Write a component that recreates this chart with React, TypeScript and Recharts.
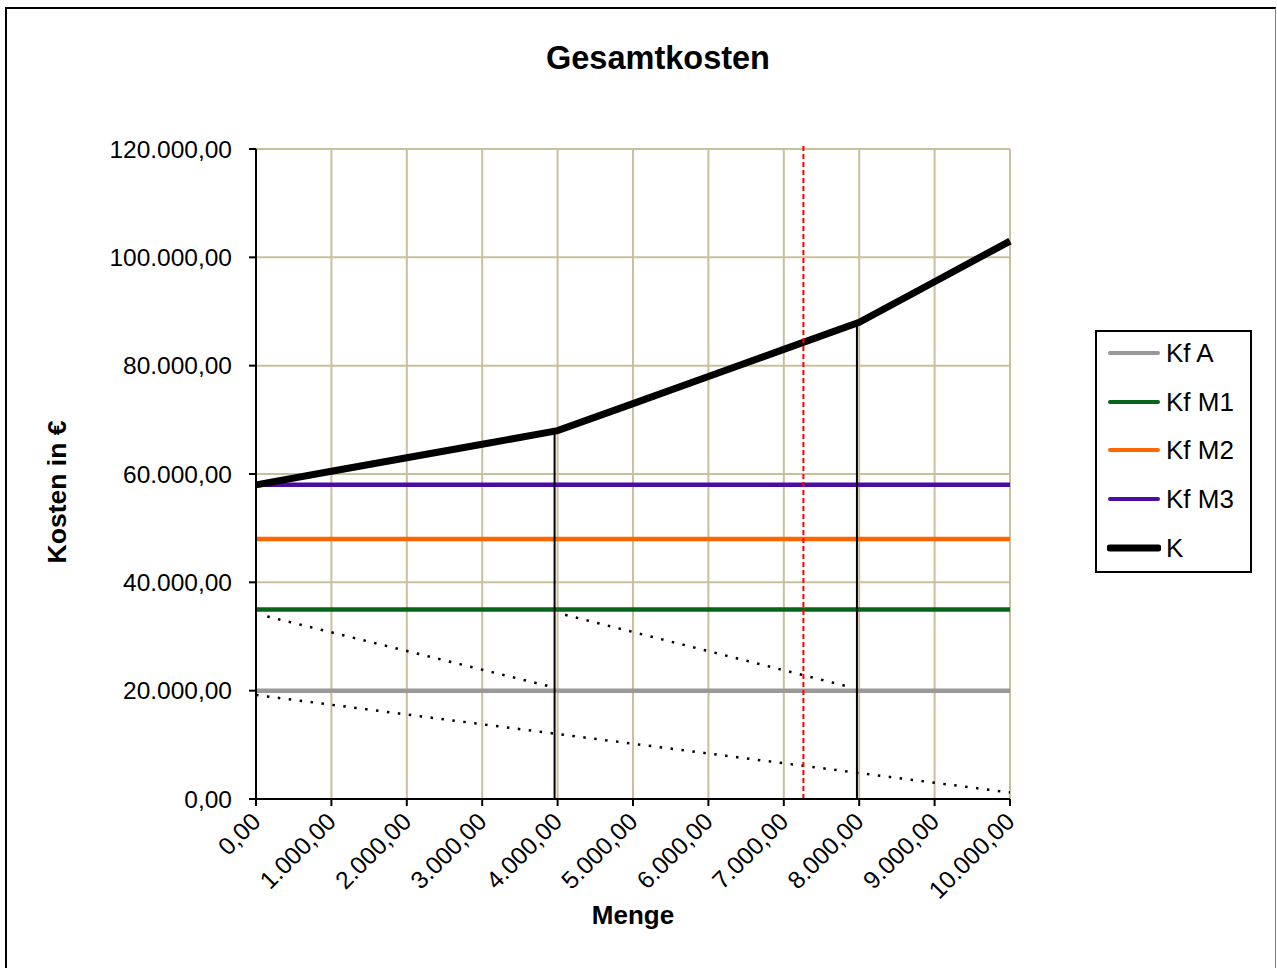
import { LineChart, Line, XAxis, YAxis, CartesianGrid, Legend, ReferenceLine } from 'recharts'

const FONT = '"Liberation Sans", Arial, sans-serif'

// Mengen (x) und Gesamtkosten K je Menge
const mengen = [0, 1000, 2000, 3000, 4000, 5000, 6000, 7000, 8000, 9000, 10000]
const gesamtkosten = [58000, 60500, 63000, 65500, 68000, 73000, 78000, 83000, 88000, 95500, 103000]
const kostenTicks = [0, 20000, 40000, 60000, 80000, 100000, 120000]

// Fixkostenniveaus
const fixNamen = ['Kf A', 'Kf M1', 'Kf M2', 'Kf M3']
const fixWerte = [20000, 35000, 48000, 58000]
const mengenBereich = [0, 10000]

// gepunktete Hilfslinien: [menge, kosten] von / bis
const hilfsVon = [[0, 19200], [150, 33700], [4100, 34000]]
const hilfsBis = [[10000, 1200], [3950, 20600], [7900, 20600]]

// Sprungstellen (senkrechte Linien bis zur Gesamtkostenkurve)
const sprungMengen = [3960, 7970]
const sprungKosten = [68000, 88000]

// rote Markierung
const markierungMenge = 7260
const markierungKosten = [0, 121100]

const legendReihenfolge = ['Kf A', 'Kf M1', 'Kf M2', 'Kf M3', 'K']
const fixFarben = ['#999999', '#086418', '#ff6600', '#4b0ca0']
const legendBreiten: Record<string, number> = { 'Kf A': 4, 'Kf M1': 4, 'Kf M2': 4, 'Kf M3': 4, K: 7 }

const kData = mengen.map((x, i) => ({ x, y: gesamtkosten[i] }))
const fixData = fixWerte.map((w) => mengenBereich.map((x) => ({ x, y: w })))
const hilfsData = hilfsVon.map((von, i) => [
  { x: von[0], y: von[1] },
  { x: hilfsBis[i][0], y: hilfsBis[i][1] },
])
const sprungData = sprungMengen.map((x, i) => [
  { x, y: 0 },
  { x, y: sprungKosten[i] },
])

function formatDE(v: number): string {
  return String(Math.round(v)).replace(/\B(?=(\d{3})+(?!\d))/g, '.') + ',00'
}

function MengeTick({ x, y, payload }: any) {
  return (
    <text
      x={x}
      y={y}
      dy="0.35em"
      textAnchor="end"
      transform={`rotate(-45 ${x} ${y})`}
      fill="#000"
      fontSize={24.5}
      fontFamily={FONT}
    >
      {formatDE(payload.value)}
    </text>
  )
}

function KostenLegende({ payload }: any) {
  const eintraege = legendReihenfolge
    .map((name) => (payload || []).find((e: any) => e.value === name))
    .filter(Boolean)
  return (
    <div
      style={{
        width: 157,
        height: 243,
        boxSizing: 'border-box',
        border: '2px solid #000',
        background: '#fff',
        fontFamily: FONT,
        fontSize: 26,
        color: '#000',
      }}
    >
      {eintraege.map((entry: any, i: number) => (
        <div
          key={entry.value}
          style={{
            height: 48.75,
            marginTop: i === 0 ? -3.4 : 0,
            display: 'flex',
            alignItems: 'center',
            paddingLeft: 10,
          }}
        >
          <svg width={54} height={10} style={{ marginRight: 5 }}>
            <line
              x1={3}
              y1={5}
              x2={51}
              y2={5}
              stroke={entry.color}
              strokeWidth={legendBreiten[entry.value] ?? 4}
              strokeLinecap="round"
            />
          </svg>
          <span style={{ lineHeight: 1 }}>{entry.value}</span>
        </div>
      ))}
    </div>
  )
}

export default function App() {
  return (
    <div style={{ position: 'absolute', left: 0, top: 0, width: 1277, height: 968, background: '#fff' }}>
      <div
        style={{
          position: 'absolute',
          left: 5,
          top: 7,
          width: 1271,
          height: 961,
          boxSizing: 'border-box',
          borderTop: '2px solid #000',
          borderLeft: '2px solid #000',
          borderRight: '1px solid #808080',
        }}
      />
      <LineChart
        width={1277}
        height={968}
        margin={{ top: 149, right: 267, bottom: 44, left: 16 }}
        style={{ position: 'absolute', left: 0, top: 0 }}
      >
        <text x={658} y={69} textAnchor="middle" fontSize={32.5} fontWeight="bold" fontFamily={FONT} fill="#000">
          Gesamtkosten
        </text>
        <text
          x={66}
          y={492}
          textAnchor="middle"
          transform="rotate(-90 66 492)"
          fontSize={26.5}
          fontWeight="bold"
          fontFamily={FONT}
          fill="#000"
        >
          Kosten in €
        </text>
        <CartesianGrid stroke="#c8c09c" strokeWidth={2} />
        <XAxis
          type="number"
          dataKey="x"
          domain={[0, 10000]}
          ticks={mengen}
          interval={0}
          height={125}
          tickSize={7}
          tickMargin={11}
          axisLine={{ stroke: '#000', strokeWidth: 2 }}
          tickLine={{ stroke: '#000', strokeWidth: 2 }}
          tick={<MengeTick />}
          label={{
            value: 'Menge',
            position: 'insideBottom',
            offset: 0,
            fill: '#000',
            fontSize: 26,
            fontWeight: 'bold',
            fontFamily: FONT,
          }}
        />
        <YAxis
          type="number"
          domain={[0, 120000]}
          ticks={kostenTicks}
          interval={0}
          width={240}
          tickSize={7}
          tickMargin={17}
          tickFormatter={formatDE}
          axisLine={{ stroke: '#000', strokeWidth: 2 }}
          tickLine={{ stroke: '#000', strokeWidth: 2 }}
          tick={{ fill: '#000', fontSize: 24.5, fontFamily: FONT }}
        />
        <Legend
          layout="vertical"
          align="center"
          verticalAlign="middle"
          wrapperStyle={{ left: 1095, top: 330, width: 157, height: 243 }}
          content={<KostenLegende />}
        />
        {hilfsData.map((d, i) => (
          <Line
            key={`hilfs-${i}`}
            data={d}
            dataKey="y"
            type="linear"
            stroke="#000"
            strokeWidth={2.5}
            strokeDasharray="2.5 8.5"
            dot={false}
            activeDot={false}
            legendType="none"
            isAnimationActive={false}
          />
        ))}
        {fixData.map((d, i) => (
          <Line
            key={fixNamen[i]}
            data={d}
            dataKey="y"
            name={fixNamen[i]}
            type="linear"
            stroke={fixFarben[i]}
            strokeWidth={4.5}
            dot={false}
            activeDot={false}
            isAnimationActive={false}
          />
        ))}
        {sprungData.map((d, i) => (
          <Line
            key={`sprung-${i}`}
            data={d}
            dataKey="y"
            type="linear"
            stroke="#000"
            strokeWidth={2}
            dot={false}
            activeDot={false}
            legendType="none"
            isAnimationActive={false}
          />
        ))}
        <Line
          data={kData}
          dataKey="y"
          name="K"
          type="linear"
          stroke="#000"
          strokeWidth={7}
          dot={false}
          activeDot={false}
          isAnimationActive={false}
        />
        <ReferenceLine
          segment={[
            { x: markierungMenge, y: markierungKosten[0] },
            { x: markierungMenge, y: markierungKosten[1] },
          ]}
          ifOverflow="visible"
          stroke="#ff0000"
          strokeWidth={2}
          strokeDasharray="5 3"
        />
      </LineChart>
    </div>
  )
}
